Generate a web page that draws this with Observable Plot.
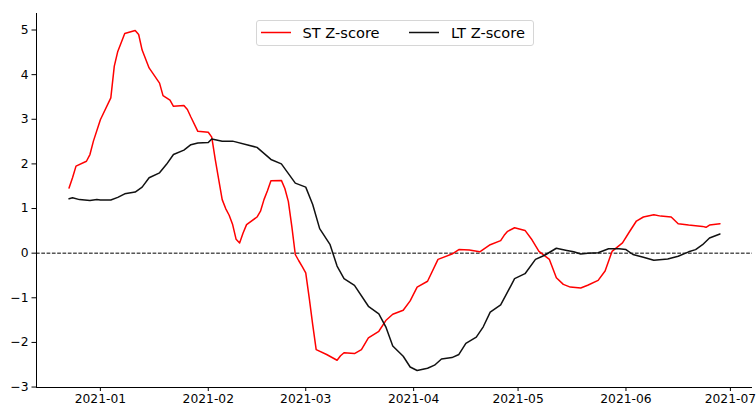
<!DOCTYPE html>
<html>
<head>
<meta charset="utf-8">
<script src="https://cdn.jsdelivr.net/npm/d3@7"></script>
<script src="https://cdn.jsdelivr.net/npm/@observablehq/plot@0.6"></script>
<style>
  html, body { margin: 0; padding: 0; background: white; }
  #wrap { position: relative; width: 756px; height: 405px; font-family: "DejaVu Sans", sans-serif; }
  #legend { position: absolute; left: 256px; top: 20px; width: 276px; height: 24px;
            border: 1px solid #d6d6d6; border-radius: 3px; background: rgba(255,255,255,0.8); }
  #legend svg { position: absolute; top: 0; left: 0; }
  #legend .lb { position: absolute; top: 0; line-height: 24px; font-size: 14.6px; color: #000; white-space: nowrap; }
</style>
</head>
<body>
<div id="wrap"></div>
<script>
// ---- data ----
const stDates = ["2020-12-23","2020-12-24","2020-12-25","2020-12-28","2020-12-29","2020-12-30","2021-01-01","2021-01-04","2021-01-05","2021-01-06","2021-01-08","2021-01-11","2021-01-12","2021-01-13","2021-01-15","2021-01-18","2021-01-19","2021-01-21","2021-01-22","2021-01-25","2021-01-26","2021-01-27","2021-01-29","2021-02-01","2021-02-02","2021-02-03","2021-02-04","2021-02-05","2021-02-06","2021-02-07","2021-02-08","2021-02-09","2021-02-10","2021-02-11","2021-02-12","2021-02-15","2021-02-16","2021-02-17","2021-02-18","2021-02-19","2021-02-22","2021-02-23","2021-02-24","2021-02-25","2021-02-26","2021-02-27","2021-02-28","2021-03-01","2021-03-02","2021-03-03","2021-03-04","2021-03-07","2021-03-10","2021-03-11","2021-03-12","2021-03-15","2021-03-17","2021-03-19","2021-03-22","2021-03-24","2021-03-26","2021-03-29","2021-03-31","2021-04-02","2021-04-05","2021-04-08","2021-04-12","2021-04-14","2021-04-17","2021-04-20","2021-04-23","2021-04-26","2021-04-27","2021-04-28","2021-04-30","2021-05-03","2021-05-05","2021-05-07","2021-05-10","2021-05-12","2021-05-14","2021-05-16","2021-05-19","2021-05-21","2021-05-24","2021-05-26","2021-05-28","2021-05-31","2021-06-02","2021-06-04","2021-06-06","2021-06-09","2021-06-11","2021-06-14","2021-06-16","2021-06-19","2021-06-23","2021-06-24","2021-06-25","2021-06-28"];
const stValues = [1.46,1.69,1.95,2.06,2.21,2.51,2.99,3.48,4.19,4.52,4.92,4.99,4.90,4.55,4.15,3.81,3.53,3.43,3.29,3.31,3.22,3.05,2.73,2.71,2.60,2.10,1.65,1.20,1.00,0.85,0.64,0.31,0.23,0.45,0.64,0.81,0.94,1.20,1.40,1.62,1.63,1.45,1.16,0.60,-0.03,-0.17,-0.30,-0.44,-1.00,-1.60,-2.16,-2.27,-2.40,-2.30,-2.23,-2.25,-2.16,-1.90,-1.75,-1.51,-1.37,-1.28,-1.07,-0.76,-0.63,-0.14,-0.02,0.08,0.07,0.03,0.19,0.28,0.40,0.49,0.57,0.51,0.30,0.04,-0.14,-0.55,-0.70,-0.76,-0.78,-0.72,-0.61,-0.40,0.04,0.23,0.48,0.72,0.81,0.86,0.83,0.81,0.66,0.63,0.60,0.58,0.63,0.66];

const ltDates = ["2020-12-23","2020-12-24","2020-12-26","2020-12-29","2020-12-31","2021-01-01","2021-01-04","2021-01-06","2021-01-08","2021-01-11","2021-01-13","2021-01-15","2021-01-18","2021-01-20","2021-01-22","2021-01-25","2021-01-27","2021-01-29","2021-02-01","2021-02-02","2021-02-05","2021-02-08","2021-02-15","2021-02-19","2021-02-22","2021-02-26","2021-03-01","2021-03-03","2021-03-05","2021-03-08","2021-03-10","2021-03-12","2021-03-15","2021-03-19","2021-03-22","2021-03-24","2021-03-26","2021-03-29","2021-03-31","2021-04-02","2021-04-05","2021-04-07","2021-04-09","2021-04-12","2021-04-14","2021-04-16","2021-04-19","2021-04-21","2021-04-23","2021-04-26","2021-04-29","2021-04-30","2021-05-03","2021-05-06","2021-05-08","2021-05-09","2021-05-12","2021-05-15","2021-05-17","2021-05-19","2021-05-21","2021-05-24","2021-05-27","2021-05-30","2021-06-01","2021-06-03","2021-06-06","2021-06-09","2021-06-13","2021-06-16","2021-06-19","2021-06-21","2021-06-23","2021-06-25","2021-06-28"];
const ltValues = [1.22,1.24,1.20,1.18,1.20,1.19,1.19,1.25,1.33,1.37,1.48,1.69,1.80,1.99,2.21,2.31,2.43,2.47,2.48,2.56,2.51,2.51,2.37,2.10,2.00,1.57,1.48,1.09,0.55,0.19,-0.29,-0.57,-0.72,-1.19,-1.36,-1.65,-2.08,-2.31,-2.55,-2.63,-2.58,-2.51,-2.37,-2.34,-2.27,-2.02,-1.88,-1.65,-1.32,-1.16,-0.72,-0.57,-0.46,-0.14,-0.07,-0.03,0.11,0.06,0.03,-0.02,0.00,0.01,0.10,0.10,0.08,-0.03,-0.09,-0.16,-0.13,-0.07,0.03,0.08,0.19,0.34,0.43];

const xTickLabels = ["2021-01","2021-02","2021-03","2021-04","2021-05","2021-06","2021-07"];
const yTicks = [-3,-2,-1,0,1,2,3,4,5];
const seriesNames = ["ST Z-score", "LT Z-score"];
const seriesColors = ["#ff0000", "#111111"];

// ---- build ----
const parse = d3.utcParse("%Y-%m-%d");
const st = stDates.map((d, i) => ({date: parse(d), value: stValues[i]}));
const lt = ltDates.map((d, i) => ({date: parse(d), value: ltValues[i]}));
const xTicks = xTickLabels.map(s => parse(s + "-01"));

// matplotlib-like 5% margins
const allDates = st.concat(lt).map(d => +d.date);
const x0 = d3.min(allDates), x1 = d3.max(allDates), xm = (x1 - x0) * 0.05;
const xDomain = [new Date(x0 - xm), new Date(x1 + xm)];
const yDomain = [-3.01, 5.37];

const chart = Plot.plot({
  width: 756,
  height: 405,
  marginLeft: 36,
  marginRight: 4,
  marginTop: 13,
  marginBottom: 18,
  style: {fontFamily: "DejaVu Sans, sans-serif", fontSize: "12.3px", color: "#000", background: "white"},
  x: {type: "utc", domain: xDomain, ticks: xTicks, tickFormat: d3.utcFormat("%Y-%m"), tickSize: 4, tickPadding: 2.3, label: null},
  y: {domain: yDomain, ticks: yTicks, tickFormat: d => d < 0 ? "\u2212" + Math.abs(d) : String(d), tickSize: 4.5, tickPadding: 3.5, label: null},
  marks: [
    Plot.ruleY([0], {stroke: "#000", strokeWidth: 1, strokeDasharray: "3.7,1.6"}),
    Plot.lineY(st, {x: "date", y: "value", stroke: seriesColors[0], strokeWidth: 1.5}),
    Plot.lineY(lt, {x: "date", y: "value", stroke: seriesColors[1], strokeWidth: 1.5}),
    Plot.ruleX([xDomain[0]], {stroke: "#000", strokeWidth: 1}),
    Plot.ruleY([yDomain[0]], {stroke: "#000", strokeWidth: 1})
  ]
});

const wrap = document.getElementById("wrap");
wrap.appendChild(chart);

const legend = document.createElement("div");
legend.id = "legend";
const swX = [4, 152], lbX = [45.5, 194];
const svgNS = "http://www.w3.org/2000/svg";
const sw = document.createElementNS(svgNS, "svg");
sw.setAttribute("width", "276");
sw.setAttribute("height", "24");
seriesNames.forEach((name, i) => {
  const ln = document.createElementNS(svgNS, "line");
  ln.setAttribute("x1", swX[i]);
  ln.setAttribute("x2", swX[i] + 30);
  ln.setAttribute("y1", 11.5);
  ln.setAttribute("y2", 11.5);
  ln.setAttribute("stroke", seriesColors[i]);
  ln.setAttribute("stroke-width", 1.5);
  sw.appendChild(ln);
});
legend.appendChild(sw);
seriesNames.forEach((name, i) => {
  const lb = document.createElement("div");
  lb.className = "lb";
  lb.style.left = lbX[i] + "px";
  lb.textContent = name;
  legend.appendChild(lb);
});
wrap.appendChild(legend);
</script>
</body>
</html>
